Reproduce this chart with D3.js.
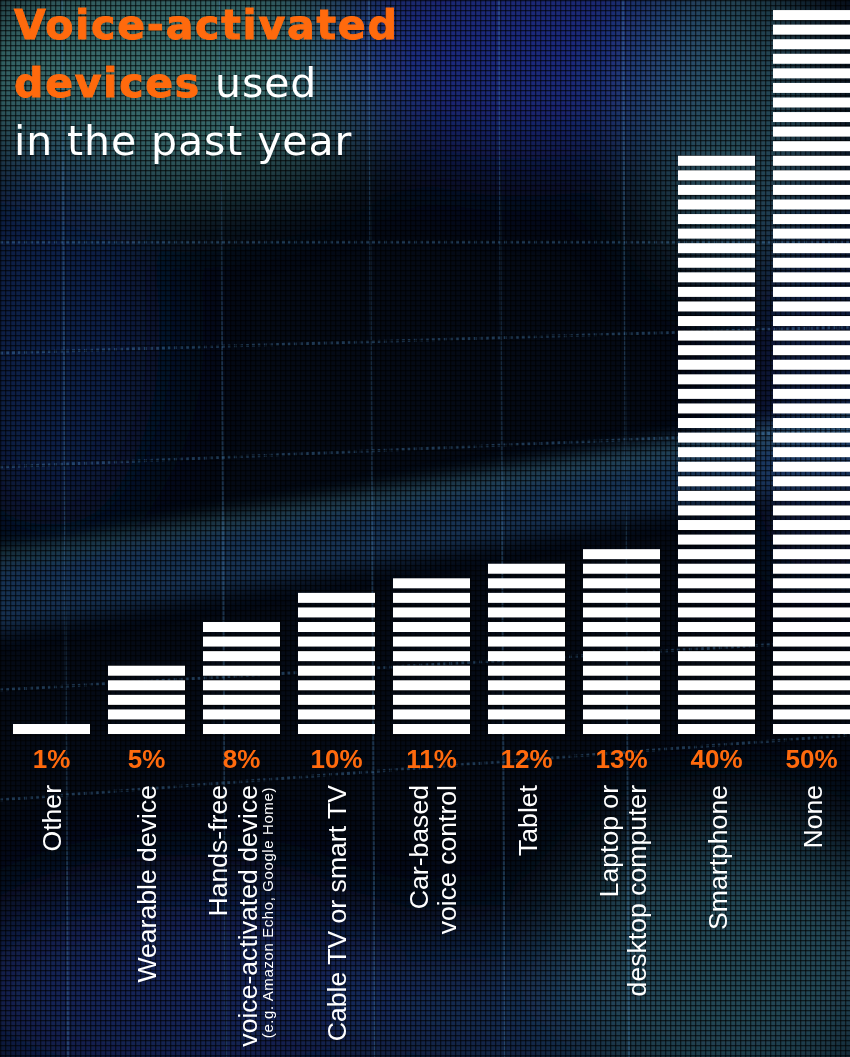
<!DOCTYPE html>
<html>
<head>
<meta charset="utf-8">
<script src="https://cdn.jsdelivr.net/npm/d3@7"></script>
<style>
  html, body { margin: 0; padding: 0; background: #040914; }
  svg { display: block; }
</style>
</head>
<body>
<div id="chart"></div>
<script>
const width = 850
const height = 1057

// data
const categories = ["Other", "Wearable device", "Hands-free voice-activated device", "Cable TV or smart TV",
  "Car-based voice control", "Tablet", "Laptop or desktop computer", "Smartphone", "None"]
const values = [1, 5, 8, 10, 11, 12, 13, 40, 50]
const labelLines = [
  ["Other"],
  ["Wearable device"],
  ["Hands-free", "voice-activated device"],
  ["Cable TV or smart TV"],
  ["Car-based", "voice control"],
  ["Tablet"],
  ["Laptop or", "desktop computer"],
  ["Smartphone"],
  ["None"]
]
const labelNotes = ["", "", "(e.g. Amazon Echo, Google Home)", "", "", "", "", "", ""]
const titleLines = [
  [{ t: "Voice-activated", bold: true }],
  [{ t: "devices", bold: true }, { t: " used", bold: false }],
  [{ t: "in the past year", bold: false }]
]

const orange = "#ff6a0d"

let svg = d3.select("#chart").append("svg")
  .attr("width", width)
  .attr("height", height)

//background, loosely imitating the photo behind the chart
let defs = svg.append("defs")
defs.append("filter").attr("id", "blur").attr("x", "-50%").attr("y", "-50%").attr("width", "200%").attr("height", "200%")
  .append("feGaussianBlur").attr("stdDeviation", 40)
defs.append("filter").attr("id", "blurSmall").attr("x", "-20%").attr("y", "-50%").attr("width", "140%").attr("height", "200%")
  .append("feGaussianBlur").attr("stdDeviation", 10)
let pat = defs.append("pattern").attr("id", "dots")
  .attr("width", 5).attr("height", 5).attr("patternUnits", "userSpaceOnUse")
pat.append("rect").attr("width", 5).attr("height", 1.3).attr("fill", "#000").attr("opacity", 0.6)
pat.append("rect").attr("width", 1.3).attr("height", 5).attr("fill", "#000").attr("opacity", 0.6)

let bg = svg.append("g").attr("class", "background")
bg.append("rect").attr("width", width).attr("height", height).attr("fill", "#040a16")

const glows = [
  { cx: 170, cy: 70, rx: 230, ry: 120, c: "#3f7473", o: 0.9 },
  { cx: 520, cy: 50, rx: 200, ry: 110, c: "#1f2f86", o: 0.9 },
  { cx: 730, cy: 110, rx: 90, ry: 160, c: "#2f5c6c", o: 0.8 },
  { cx: 50, cy: 330, rx: 110, ry: 200, c: "#16265e", o: 0.7 },
  { cx: 180, cy: 990, rx: 230, ry: 110, c: "#1a2d6c", o: 0.75 },
  { cx: 480, cy: 1010, rx: 150, ry: 80, c: "#1d376a", o: 0.7 },
  { cx: 730, cy: 960, rx: 180, ry: 140, c: "#2a5566", o: 0.8 },
  { cx: 820, cy: 380, rx: 80, ry: 200, c: "#1a2e66", o: 0.5 }
]
bg.append("g").attr("filter", "url(#blur)")
  .selectAll("ellipse").data(glows).enter().append("ellipse")
  .attr("cx", d => d.cx).attr("cy", d => d.cy)
  .attr("rx", d => d.rx).attr("ry", d => d.ry)
  .attr("fill", d => d.c).attr("opacity", d => d.o)

// diagonal glowing band
bg.append("path")
  .attr("d", "M-20,600 L870,440")
  .attr("stroke", "#2b5a8e").attr("stroke-width", 70).attr("opacity", 0.5)
  .attr("filter", "url(#blurSmall)")
bg.append("path")
  .attr("d", "M-20,560 L870,420")
  .attr("stroke", "#4f8a80").attr("stroke-width", 10).attr("opacity", 0.5)
  .attr("filter", "url(#blurSmall)")

// faint grid of the photo
const gridX = [62, 220, 369, 499, 623]
const gridY = [[242, 242], [353, 327], [467, 430], [690, 640], [800, 735]]
bg.append("g").selectAll("line").data(gridX).enter().append("line")
  .attr("x1", d => d).attr("x2", d => d + 6).attr("y1", 0).attr("y2", height)
  .attr("stroke", "#4a80b0").attr("stroke-width", 2).attr("opacity", 0.35)
bg.append("g").selectAll("line").data(gridY).enter().append("line")
  .attr("x1", 0).attr("x2", width).attr("y1", d => d[0]).attr("y2", d => d[1])
  .attr("stroke", "#4a80b0").attr("stroke-width", 3).attr("stroke-dasharray", "3 3").attr("opacity", 0.4)

bg.append("rect").attr("width", width).attr("height", height).attr("fill", "url(#dots)")

// scales
let x = d3.scaleBand()
  .domain(categories)
  .range([13, 850])
  .paddingInner(0.1895)
  .paddingOuter(0)

let y = d3.scaleLinear()
  .domain([0, 50])
  .range([734, 5.5])

const stripeH = 10

// bars built from one white stripe per percentage point
let bars = svg.append("g").attr("class", "bars")
  .selectAll("g")
  .data(categories.map((c, i) => ({ c, v: values[i] })))
  .enter()
  .append("g")

bars.selectAll("rect")
  .data(d => d3.range(d.v).map(k => ({ c: d.c, k })))
  .enter()
  .append("rect")
  .attr("x", d => x(d.c))
  .attr("width", x.bandwidth())
  .attr("y", d => y(d.k) - stripeH)
  .attr("height", stripeH)
  .attr("fill", "#fff")

// value labels
svg.append("g").selectAll("text")
  .data(categories)
  .enter()
  .append("text")
  .attr("x", d => x(d) + x.bandwidth() / 2)
  .attr("y", 768)
  .attr("text-anchor", "middle")
  .attr("font-family", "'Liberation Sans', Arial, sans-serif")
  .attr("font-weight", "bold")
  .attr("font-size", 26)
  .attr("fill", orange)
  .text((d, i) => values[i] + "%")

// category labels, rotated; baseline offsets from the bar centre
const lineOffsets = { 1: [10], 2: [-3.5, 24], 3: [-14.5, 15.5] }
categories.forEach((c, i) => {
  let cx = x(c) + x.bandwidth() / 2
  let lines = labelLines[i]
  let note = labelNotes[i]
  let offs = lineOffsets[lines.length + (note ? 1 : 0)]
  let g = svg.append("g").attr("class", "cat")
  lines.forEach((l, j) => {
    g.append("text")
      .attr("transform", "translate(" + (cx + offs[j]) + ",785) rotate(-90)")
      .attr("text-anchor", "end")
      .attr("font-family", "'Liberation Sans', Arial, sans-serif")
      .attr("font-size", 26.6)
      .attr("fill", "#fff")
      .text(l)
  })
  if (note) {
    g.append("text")
      .attr("transform", "translate(" + (cx + 32) + ",787) rotate(-90)")
      .attr("text-anchor", "end")
      .attr("font-family", "'Liberation Sans', Arial, sans-serif")
      .attr("font-size", 15)
      .attr("letter-spacing", 0.6)
      .attr("fill", "#fff")
      .text(note)
  }
})

// title
const titleBase = [39, 97, 155]
let title = svg.append("g").attr("class", "title")
titleLines.forEach((line, i) => {
  let t = title.append("text")
    .attr("x", 14)
    .attr("y", titleBase[i])
    .attr("font-family", "'DejaVu Sans', sans-serif")
    .attr("font-size", 41)
  line.forEach(part => {
    t.append("tspan")
      .attr("font-weight", part.bold ? "bold" : "normal")
      .attr("letter-spacing", part.bold ? 1.8 : 0.9)
      .attr("fill", part.bold ? orange : "#fff")
      .attr("stroke", part.bold ? orange : "none")
      .attr("stroke-width", part.bold ? 1 : 0)
      .text(part.t)
  })
})
</script>
</body>
</html>
